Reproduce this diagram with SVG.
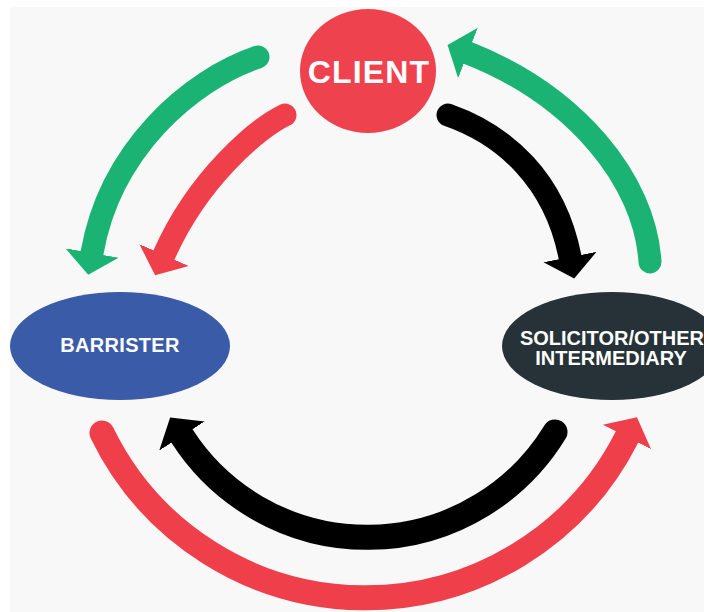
<svg xmlns="http://www.w3.org/2000/svg" width="704" height="612" viewBox="0 0 704 612">
  <style>
    .lbl { font-family: "Liberation Sans", Arial, sans-serif; font-weight: bold; fill: #ffffff; text-anchor: middle; }
    .arr { fill: none; stroke-linecap: round; }
    .top { stroke-width: 23; }
    .bot { stroke-width: 25; }
    .g { stroke: #1bb373; }
    .r { stroke: #ee3f4b; }
    .k { stroke: #000000; }
  </style>
  <defs>
    <marker id="hg" markerUnits="userSpaceOnUse" markerWidth="24" markerHeight="56" viewBox="0 -28 24 56" refX="0" refY="0" orient="auto">
      <path d="M0,-27 L22,0 L0,27 z" fill="#1bb373"/>
    </marker>
    <marker id="hr" markerUnits="userSpaceOnUse" markerWidth="24" markerHeight="56" viewBox="0 -28 24 56" refX="0" refY="0" orient="auto">
      <path d="M0,-27 L22,0 L0,27 z" fill="#ee3f4b"/>
    </marker>
    <marker id="hk" markerUnits="userSpaceOnUse" markerWidth="24" markerHeight="56" viewBox="0 -28 24 56" refX="0" refY="0" orient="auto">
      <path d="M0,-27 L22,0 L0,27 z" fill="#000000"/>
    </marker>
  </defs>
  <rect x="0" y="0" width="704" height="612" fill="#ffffff"/>
  <rect x="10" y="7" width="694" height="605" fill="#f8f8f8"/>

  <g id="connectors">
    <path class="arr top g" d="M258,57 C190,80 110,150 92,253" marker-end="url(#hg)"/>
    <path class="arr top r" d="M285,115 C258,128 198,178 164,255" marker-end="url(#hr)"/>
    <path class="arr top k" d="M448,115 C505,135 555,180 570,257" marker-end="url(#hk)"/>
    <path class="arr top g" d="M650,262 C645,180 575,95 468,53" marker-end="url(#hg)"/>
    <path class="arr bot k" d="M555,432 A220,220 0 0 1 182,436" marker-end="url(#hk)"/>
    <path class="arr bot r" d="M102,433 A293,293 0 0 0 627,437" marker-end="url(#hr)"/>
  </g>

  <g id="client">
    <ellipse cx="368" cy="71" rx="68" ry="62" fill="#ee424e"/>
    <text class="lbl" x="369" y="83" font-size="32" letter-spacing="1.2">CLIENT</text>
  </g>

  <g id="barrister">
    <ellipse cx="120" cy="346" rx="110" ry="54" fill="#3a5ba8"/>
    <text class="lbl" x="120" y="352" font-size="20" letter-spacing="0.3">BARRISTER</text>
  </g>

  <g id="solicitor">
    <ellipse cx="612" cy="346" rx="110" ry="54" fill="#263238"/>
    <text class="lbl" x="612" y="345" font-size="20">SOLICITOR/OTHER</text>
    <text class="lbl" x="611" y="365" font-size="20">INTERMEDIARY</text>
  </g>
</svg>
